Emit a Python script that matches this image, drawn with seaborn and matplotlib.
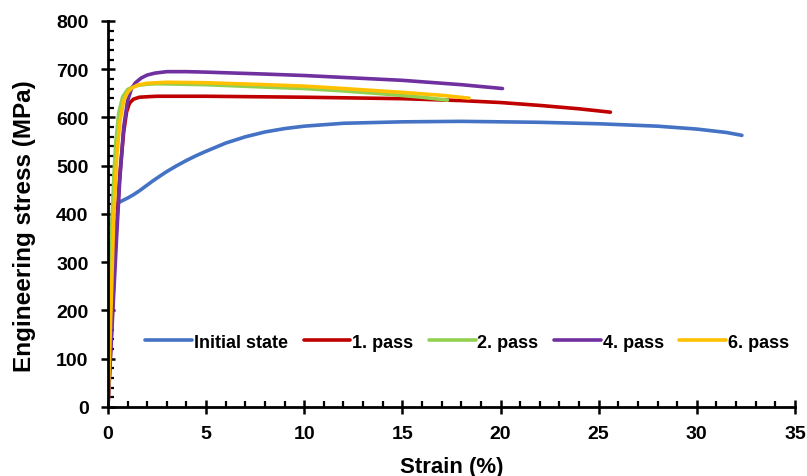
import matplotlib
matplotlib.use("Agg")
import matplotlib.pyplot as plt
from matplotlib.ticker import MultipleLocator
import numpy as np
import pandas as pd
import seaborn as sns

sns.set_style("white")
plt.rcParams['font.family'] = ['Liberation Sans', 'DejaVu Sans']
plt.rcParams['font.weight'] = 'bold'
plt.rcParams['text.color'] = 'black'
plt.rcParams['axes.labelcolor'] = 'black'

series_names = ["Initial state", "1. pass", "2. pass", "4. pass", "6. pass"]
colors = ["#4472C4", "#C00000", "#92D050", "#7030A0", "#FFC000"]

initial_strain = [0, 0.1, 0.2, 0.27, 0.4, 0.6, 1.0, 1.3, 1.6, 2.0, 2.3, 2.7, 3.0, 3.5, 4.0, 4.5, 5.0, 6.0, 7.0,
                  8.0, 9.0, 10, 12, 15, 18, 20, 22, 25, 28, 30, 31.5, 32.3]
initial_stress = [0, 200, 380, 410, 418, 425, 433, 440, 448, 460, 469, 480, 488, 500, 511, 521, 530, 547, 560,
                  570, 577, 582, 588, 591, 592, 591, 590, 587, 582, 576, 569, 563]

pass1_strain = [0, 0.2, 0.4, 0.6, 0.8, 0.95, 1.1, 1.3, 1.6, 2.0, 2.5, 5, 10, 15, 18, 20, 22, 24, 25.6]
pass1_stress = [0, 180, 350, 480, 570, 612, 630, 638, 642, 643, 644, 644, 642, 639, 635, 631, 625, 618, 611]

pass2_strain = [0, 0.1, 0.2, 0.3, 0.4, 0.55, 0.75, 1.0, 1.3, 1.6, 2.0, 2.5, 5, 8, 10, 12, 14, 16, 17.3]
pass2_stress = [0, 200, 380, 480, 550, 610, 643, 658, 664, 667, 669, 670, 668, 663, 660, 655, 649, 642, 636]

pass4_strain = [0, 0.25, 0.45, 0.6, 0.8, 1.0, 1.2, 1.4, 1.7, 2.0, 2.4, 3.0, 4.0, 5, 8, 10, 12, 15, 18, 20.1]
pass4_stress = [0, 200, 360, 470, 580, 635, 660, 672, 682, 688, 692, 695, 695, 694, 690, 687, 683, 677, 668, 660]

pass6_strain = [0, 0.15, 0.3, 0.45, 0.6, 0.8, 1.0, 1.2, 1.5, 2.0, 2.5, 3, 5, 8, 10, 12, 15, 17, 18.4]
pass6_stress = [0, 200, 400, 520, 590, 635, 652, 661, 667, 671, 672, 673, 672, 668, 665, 660, 652, 646, 640]

x_ticks = [0, 5, 10, 15, 20, 25, 30, 35]
y_ticks = [0, 100, 200, 300, 400, 500, 600, 700, 800]

frames = []
for name, xs, ys in zip(series_names,
                        [initial_strain, pass1_strain, pass2_strain, pass4_strain, pass6_strain],
                        [initial_stress, pass1_stress, pass2_stress, pass4_stress, pass6_stress]):
    frames.append(pd.DataFrame({"strain": xs, "stress": ys, "series": name}))
df = pd.concat(frames, ignore_index=True)

fig = plt.figure(figsize=(8.07, 4.77), dpi=100)
ax = fig.add_axes([0.1338, 0.1447, 0.8512, 0.8092])

sns.lineplot(data=df, x="strain", y="stress", hue="series", hue_order=series_names,
             palette=colors, sort=False, estimator=None, linewidth=2.6, ax=ax)

ax.set_xlim(0, 35)
ax.set_ylim(0, 800)
ax.set_xticks(x_ticks)
ax.set_yticks(y_ticks)
ax.xaxis.set_minor_locator(MultipleLocator(1))
ax.yaxis.set_minor_locator(MultipleLocator(20))
ax.tick_params(axis='both', which='major', direction='inout', length=10, width=1.8,
               labelsize=14, color='black', labelcolor='black')
ax.tick_params(axis='y', which='major', pad=9)
ax.tick_params(axis='x', which='major', pad=8)
ax.tick_params(axis='both', which='minor', direction='in', length=4.5, width=1.6, color='black')
ax.tick_params(axis='x', which='both', bottom=True)
ax.tick_params(axis='y', which='both', left=True)
for lab in ax.get_xticklabels() + ax.get_yticklabels():
    lab.set_fontweight('bold')

for s in ['top', 'right']:
    ax.spines[s].set_visible(False)
for s in ['left', 'bottom']:
    ax.spines[s].set_color('black')
    ax.spines[s].set_linewidth(2)

ax.set_xlabel("Strain (%)", fontsize=16, fontweight='bold', labelpad=10, color='black')
ax.set_ylabel("Engineering stress (MPa)", fontsize=17.5, fontweight='bold', color='black')
ax.yaxis.set_label_coords(-0.105, 0.47)

leg = ax.legend(loc='center', bbox_to_anchor=(0.523, 0.168), ncol=5, frameon=False,
                fontsize=13, handlelength=2.6, handletextpad=0.1, columnspacing=0.85)
for t in leg.get_texts():
    t.set_fontweight('bold')
    t.set_color('black')
for l in leg.get_lines():
    l.set_linewidth(2.6)

fig.savefig("out.png", dpi=100)
